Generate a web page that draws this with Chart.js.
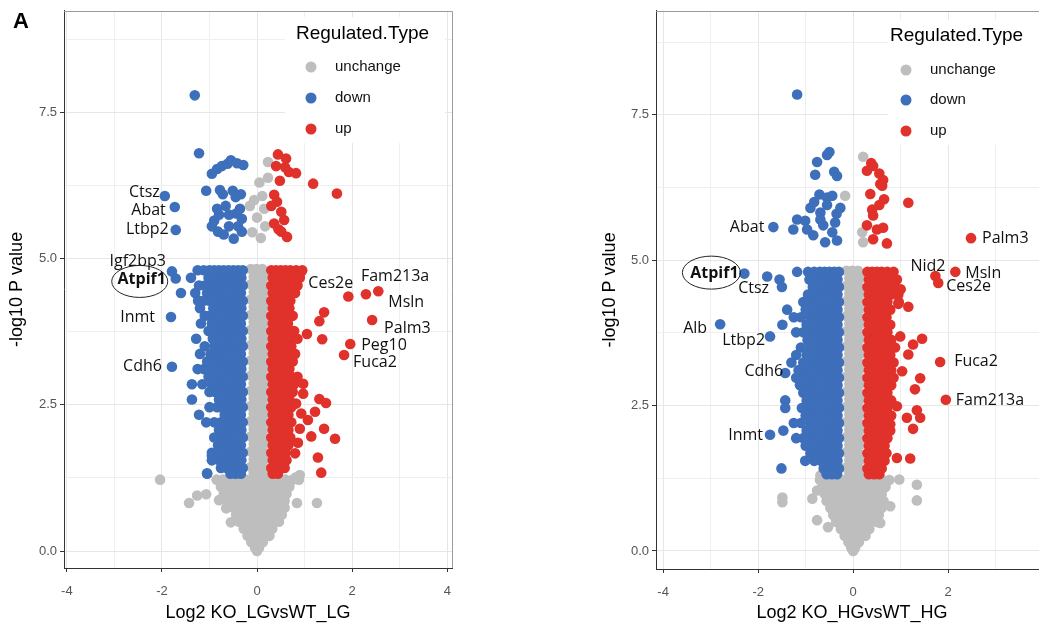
<!DOCTYPE html>
<html><head><meta charset="utf-8">
<script src="https://cdn.jsdelivr.net/npm/chart.js@4.4.1/dist/chart.umd.min.js"></script>
<style>
html,body{margin:0;padding:0;background:#fff;overflow:hidden;width:1039px;height:632px;position:relative;}
#c1{position:absolute;left:0;top:0;}
#c2{position:absolute;left:590px;top:0;}
</style></head><body>
<canvas id="c1" width="480" height="632"></canvas>
<canvas id="c2" width="480" height="632"></canvas>
<script>
// ---------- shared categories / ticks ----------
const seriesNames = ['unchange','down','up'];
const legendTitle = 'Regulated.Type';
const xMajorTicks = [-4,-2,0,2,4];
const xTickLabels = ['-4','-2','0','2','4'];
const xMinorTicks = [-3,-1,1,3];
const yMajorTicks = [0,2.5,5,7.5];
const yTickLabels = ['0.0','2.5','5.0','7.5'];
const yMinorTicks = [1.25,3.75,6.25,8.75];
const yTitle = '-log10 P value';
const leftXTitle = 'Log2 KO_LGvsWT_LG';
const rightXTitle = 'Log2 KO_HGvsWT_HG';

// ---------- LEFT panel (KO_LG vs WT_LG) ----------
// rows: [y, [x values]]
const leftDownRows = [
 [4.80,[-0.30,-0.40,-0.50,-0.60,-0.70,-0.80,-0.90,-1.00,-1.12,-1.25]],
 [4.67,[-0.33,-0.44,-0.55,-0.66,-0.78,-0.90,-1.02,-1.39]],
 [4.54,[-0.30,-0.41,-0.52,-0.63,-0.74,-0.86,-0.98,-1.10,-1.22]],
 [4.41,[-0.34,-0.45,-0.56,-0.68,-0.80,-0.93,-1.05,-1.30,-1.60]],
 [4.28,[-0.30,-0.41,-0.52,-0.64,-0.76,-0.88,-1.00,-1.12,-1.24]],
 [4.15,[-0.33,-0.44,-0.55,-0.67,-0.79,-0.92,-1.20]],
 [4.02,[-0.30,-0.41,-0.52,-0.63,-0.75,-0.87,-1.00,-1.10]],
 [3.89,[-0.34,-0.45,-0.56,-0.68,-0.80,-0.95,-1.18]],
 [3.76,[-0.30,-0.41,-0.52,-0.64,-0.76,-0.88,-1.02]],
 [3.63,[-0.33,-0.44,-0.55,-0.67,-0.80,-0.93,-1.28]],
 [3.50,[-0.30,-0.41,-0.52,-0.64,-0.76,-0.90,-1.10]],
 [3.37,[-0.34,-0.45,-0.56,-0.68,-0.82,-0.98,-1.20]],
 [3.24,[-0.30,-0.41,-0.52,-0.64,-0.76,-0.88,-1.05]],
 [3.11,[-0.33,-0.44,-0.55,-0.67,-0.80,-0.94,-1.12,-1.25]],
 [2.98,[-0.30,-0.41,-0.52,-0.64,-0.76,-0.90,-1.02]],
 [2.85,[-0.34,-0.45,-0.56,-0.68,-0.80,-0.95,-1.15,-1.37]],
 [2.72,[-0.30,-0.41,-0.52,-0.64,-0.76,-0.88,-1.00]],
 [2.59,[-0.33,-0.44,-0.55,-0.67,-0.80,-1.37]],
 [2.46,[-0.30,-0.41,-0.52,-0.64,-0.76,-0.84,-1.00]],
 [2.33,[-0.34,-0.45,-0.56,-0.68,-1.22]],
 [2.20,[-0.30,-0.41,-0.52,-0.64,-0.76,-0.90,-1.07]],
 [2.07,[-0.33,-0.44,-0.55,-0.67,-0.80]],
 [1.94,[-0.30,-0.41,-0.52,-0.64,-0.78,-0.90]],
 [1.81,[-0.34,-0.45,-0.56,-0.68,-0.82]],
 [1.68,[-0.30,-0.41,-0.52,-0.64,-0.76,-0.95]],
 [1.55,[-0.33,-0.44,-0.55,-0.67,-0.80,-0.95]],
 [1.42,[-0.30,-0.41,-0.52,-0.64,-0.76]],
 [1.32,[-0.34,-0.45,-0.56,-1.05]]
];
const leftDownExtra = [
 [-1.31,7.79],[-1.22,6.80],[-0.95,6.45],[-0.84,6.53],[-0.74,6.58],[-0.62,6.62],[-0.55,6.68],[-0.42,6.63],[-0.29,6.60],
 [-1.07,6.16],[-0.78,6.17],[-0.72,6.10],[-0.51,6.16],[-0.45,6.05],[-0.34,6.10],
 [-0.84,5.85],[-0.66,5.90],[-0.36,5.85],[-0.80,5.75],[-0.59,5.75],[-0.44,5.77],[-0.32,5.68],[-0.90,5.65],
 [-0.95,5.55],[-0.59,5.55],[-0.40,5.55],[-0.82,5.46],[-0.32,5.46],[-0.70,5.41],[-0.49,5.34],
 [-1.05,1.33],[-0.95,1.63]
];
const leftUpRows = [
 [4.80,[0.30,0.40,0.50,0.60,0.70,0.82,0.95]],
 [4.67,[0.33,0.44,0.55,0.66,0.78,0.90]],
 [4.54,[0.30,0.40,0.50,0.60,0.72,0.85]],
 [4.41,[0.33,0.44,0.55,0.66,0.80]],
 [4.28,[0.30,0.40,0.50,0.60,0.70]],
 [4.15,[0.33,0.44,0.55,0.68]],
 [4.02,[0.30,0.40,0.50,0.60,0.75]],
 [3.89,[0.33,0.44,0.55,0.65]],
 [3.76,[0.30,0.40,0.50,0.62,0.78]],
 [3.63,[0.33,0.44,0.55,0.68,0.85]],
 [3.50,[0.30,0.40,0.50,0.60,0.72]],
 [3.37,[0.33,0.44,0.55,0.66,0.80]],
 [3.24,[0.30,0.40,0.50,0.62,0.75]],
 [3.11,[0.33,0.44,0.55,0.68]],
 [2.98,[0.30,0.40,0.50,0.60,0.72,0.85]],
 [2.85,[0.33,0.44,0.55,0.66,0.78]],
 [2.72,[0.30,0.40,0.50,0.62,0.75]],
 [2.59,[0.33,0.44,0.55,0.68]],
 [2.46,[0.30,0.40,0.50,0.60,0.72]],
 [2.33,[0.33,0.44,0.55,0.66]],
 [2.20,[0.30,0.40,0.50,0.62,0.72]],
 [2.07,[0.33,0.44,0.55,0.66]],
 [1.94,[0.30,0.40,0.50,0.60,0.70]],
 [1.81,[0.33,0.44,0.55,0.66]],
 [1.68,[0.30,0.40,0.50,0.60]],
 [1.55,[0.33,0.44,0.55,0.62]],
 [1.42,[0.30,0.40,0.50,0.58]],
 [1.32,[0.33,0.44]]
];
const leftUpExtra = [
 [0.44,6.78],[0.61,6.71],[0.40,6.58],[0.59,6.56],[0.67,6.48],[0.82,6.46],[0.48,6.33],[1.18,6.28],[1.68,6.11],[0.36,6.09],
 [0.42,5.97],[0.30,5.90],[0.51,5.80],[0.57,5.66],[0.36,5.60],[0.45,5.50],[0.51,5.46],[0.63,5.37],
 [0.93,4.78],[0.74,4.73],[1.41,4.08],[1.31,3.93],[1.05,3.71],[1.37,3.62],
 [0.97,2.86],[0.97,2.69],[1.31,2.60],[1.45,2.53],[0.82,2.52],[1.22,2.38],[0.93,2.35],[1.07,2.24],
 [1.41,2.09],[0.90,2.09],[1.14,1.96],[1.64,1.92],[0.86,1.85],[0.80,1.67],[1.28,1.60],[1.35,1.34]
];
const leftUnchangeRows = [
 [4.82,[-0.13,-0.01,0.11]],[4.69,[-0.07,0.05,0.16]],[4.56,[-0.13,-0.01,0.11]],[4.43,[-0.07,0.05,0.16]],
 [4.30,[-0.13,-0.01,0.11]],[4.17,[-0.07,0.05,0.16]],[4.04,[-0.13,-0.01,0.11]],[3.91,[-0.07,0.05,0.16]],
 [3.78,[-0.13,-0.01,0.11]],[3.65,[-0.07,0.05,0.16]],[3.52,[-0.13,-0.01,0.11]],[3.39,[-0.07,0.05,0.16]],
 [3.26,[-0.13,-0.01,0.11]],[3.13,[-0.07,0.05,0.16]],[3.00,[-0.13,-0.01,0.11]],[2.87,[-0.07,0.05,0.16]],
 [2.74,[-0.13,-0.01,0.11]],[2.61,[-0.07,0.05,0.16]],[2.48,[-0.13,-0.01,0.11]],[2.35,[-0.07,0.05,0.16]],
 [2.22,[-0.13,-0.01,0.11]],[2.09,[-0.07,0.05,0.16]],[1.96,[-0.13,-0.01,0.11]],[1.83,[-0.07,0.05,0.16]],
 [1.70,[-0.13,-0.01,0.11]],[1.57,[-0.07,0.05,0.16]],[1.44,[-0.13,-0.01,0.11]],[1.33,[-0.07,0.05,0.16]],
 [1.22,[-0.85,-0.72,-0.60,-0.48,-0.36,-0.24,-0.12,0,0.12,0.24,0.36,0.48,0.60,0.75,0.88]],
 [1.10,[-0.76,-0.64,-0.52,-0.40,-0.28,-0.16,-0.04,0.08,0.20,0.32,0.44,0.56,0.68]],
 [0.98,[-0.70,-0.58,-0.46,-0.34,-0.22,-0.10,0.02,0.14,0.26,0.38,0.50,0.62]],
 [0.86,[-0.62,-0.50,-0.38,-0.26,-0.14,-0.02,0.10,0.22,0.34,0.46,0.58]],
 [0.74,[-0.50,-0.38,-0.26,-0.14,-0.02,0.10,0.22,0.34,0.46,0.58]],
 [0.62,[-0.44,-0.32,-0.20,-0.08,0.04,0.16,0.28,0.40,0.52]],
 [0.50,[-0.38,-0.26,-0.14,-0.02,0.10,0.22,0.34,0.46]],
 [0.38,[-0.28,-0.16,-0.04,0.08,0.20,0.32]],
 [0.26,[-0.20,-0.08,0.04,0.16,0.26]],
 [0.15,[-0.12,0,0.12]],
 [0.05,[-0.04,0.04]],
 [0.00,[0]]
];
const leftUnchangeExtra = [
 [-2.04,1.22],[-1.43,0.82],[-1.26,0.95],[-1.07,0.97],[-0.80,0.87],[-0.65,0.73],[-0.55,0.49],
 [0.84,0.82],[1.26,0.82],[0.82,1.26],[0.90,1.30],
 [0.23,6.65],[0.23,6.38],[0.05,6.30],[0.11,6.07],[-0.06,6.00],[-0.15,5.90],[0.15,5.85],[0.00,5.70],[0.17,5.55],[-0.10,5.45],[0.08,5.35]
];
const leftGenes = ['Ctsz','Abat','Ltbp2','Igf2bp3','Atpif1','Inmt','Cdh6','Ces2e','Fam213a','Msln','Palm3','Peg10','Fuca2'];
const leftGeneX = [-1.94,-1.73,-1.71,-1.79,-1.71,-1.81,-1.79,1.92,2.29,2.55,2.42,1.96,1.83];
const leftGeneY = [6.07,5.88,5.49,4.78,4.66,4.00,3.15,4.35,4.39,4.44,3.95,3.54,3.35];
const leftGeneType = ['down','down','down','down','down','down','down','up','up','up','up','up','up'];

// ---------- RIGHT panel (KO_HG vs WT_HG) ----------
const rightDownRows = [
 [4.80,[-0.30,-0.40,-0.50,-0.60,-0.70,-0.82,-0.95,-1.18]],
 [4.67,[-0.33,-0.44,-0.55,-0.66,-0.78,-0.92,-1.55]],
 [4.54,[-0.30,-0.40,-0.50,-0.60,-0.72,-0.85,-1.50]],
 [4.41,[-0.33,-0.44,-0.55,-0.66,-0.80,-0.95]],
 [4.28,[-0.30,-0.40,-0.50,-0.62,-0.75,-0.90,-1.05]],
 [4.15,[-0.33,-0.44,-0.55,-0.68,-0.82,-1.00,-1.39]],
 [4.02,[-0.30,-0.40,-0.50,-0.62,-0.75,-0.90,-1.10,-1.25]],
 [3.89,[-0.33,-0.44,-0.55,-0.68,-0.82,-0.98,-1.49]],
 [3.76,[-0.30,-0.40,-0.50,-0.62,-0.75,-0.90,-1.05,-1.20]],
 [3.63,[-0.33,-0.44,-0.55,-0.68,-0.82,-0.96]],
 [3.50,[-0.30,-0.40,-0.50,-0.62,-0.75,-0.90,-1.10]],
 [3.37,[-0.33,-0.44,-0.55,-0.68,-0.82,-0.98,-1.20]],
 [3.24,[-0.30,-0.40,-0.50,-0.62,-0.75,-0.90,-1.05,-1.30]],
 [3.11,[-0.33,-0.44,-0.55,-0.68,-0.82,-0.98,-1.15]],
 [2.98,[-0.30,-0.40,-0.50,-0.62,-0.75,-0.90,-1.05,-1.20]],
 [2.85,[-0.33,-0.44,-0.55,-0.68,-0.82,-0.98,-1.12]],
 [2.72,[-0.30,-0.40,-0.50,-0.62,-0.75,-0.90,-1.05]],
 [2.59,[-0.33,-0.44,-0.55,-0.68,-0.82,-0.98,-1.43]],
 [2.46,[-0.30,-0.40,-0.50,-0.62,-0.75,-0.90,-1.08,-1.43]],
 [2.33,[-0.33,-0.44,-0.55,-0.68,-0.82,-1.00]],
 [2.20,[-0.30,-0.40,-0.50,-0.62,-0.75,-0.90,-1.10,-1.25]],
 [2.07,[-0.33,-0.44,-0.55,-0.68,-0.82,-0.98,-1.47]],
 [1.94,[-0.30,-0.40,-0.50,-0.62,-0.75,-0.90,-1.05,-1.20]],
 [1.81,[-0.33,-0.44,-0.55,-0.68,-0.82,-1.00]],
 [1.68,[-0.30,-0.40,-0.50,-0.62,-0.75,-0.90]],
 [1.55,[-0.33,-0.44,-0.55,-0.68,-0.82,-1.01]],
 [1.42,[-0.30,-0.40,-0.50,-0.62,-1.51]],
 [1.32,[-0.34,-0.45,-0.56]]
];
const rightDownExtra = [
 [-1.18,7.85],[-0.76,6.69],[-0.55,6.81],[-0.50,6.86],[-0.80,6.47],[-0.40,6.52],[-0.34,6.45],
 [-0.71,6.13],[-0.55,6.08],[-0.44,6.11],[-0.82,6.00],[-0.55,5.95],[-0.90,5.90],[-0.27,5.90],[-0.69,5.82],[-0.35,5.80],
 [-1.18,5.70],[-1.01,5.68],[-0.69,5.70],[-0.38,5.65],[-0.63,5.60],[-1.26,5.53],[-0.97,5.53],[-0.44,5.48],
 [-0.84,5.43],[-0.34,5.34],[-0.59,5.31]
];
const rightUpRows = [
 [4.80,[0.30,0.40,0.50,0.60,0.72,0.85]],
 [4.67,[0.33,0.44,0.55,0.66,0.78,0.92]],
 [4.54,[0.30,0.40,0.50,0.60,0.72,0.88]],
 [4.41,[0.33,0.44,0.55,0.66,0.80,0.95]],
 [4.28,[0.30,0.40,0.50,0.60,0.72,0.96]],
 [4.15,[0.33,0.44,0.55,0.66,0.78]],
 [4.02,[0.30,0.40,0.50,0.60,0.70]],
 [3.89,[0.33,0.44,0.55,0.66,0.78]],
 [3.76,[0.30,0.40,0.50,0.60,0.72]],
 [3.63,[0.33,0.44,0.55,0.66,0.80]],
 [3.50,[0.30,0.40,0.50,0.60,0.72,0.88]],
 [3.37,[0.33,0.44,0.55,0.66,0.78]],
 [3.24,[0.30,0.40,0.50,0.60,0.72,0.85]],
 [3.11,[0.33,0.44,0.55,0.66,0.80]],
 [2.98,[0.30,0.40,0.50,0.60,0.72,0.85]],
 [2.85,[0.33,0.44,0.55,0.66,0.80]],
 [2.72,[0.30,0.40,0.50,0.60,0.72]],
 [2.59,[0.33,0.44,0.55,0.66,0.80]],
 [2.46,[0.30,0.40,0.50,0.60,0.72]],
 [2.33,[0.33,0.44,0.55,0.66,0.80]],
 [2.20,[0.30,0.40,0.50,0.60,0.72]],
 [2.07,[0.33,0.44,0.55,0.66,0.78]],
 [1.94,[0.30,0.40,0.50,0.60,0.72]],
 [1.81,[0.33,0.44,0.55,0.66]],
 [1.68,[0.30,0.40,0.50,0.60,0.70]],
 [1.55,[0.33,0.44,0.55,0.66]],
 [1.42,[0.30,0.40,0.50,0.60]],
 [1.32,[0.33,0.44,0.55]]
];
const rightUpExtra = [
 [0.38,6.67],[0.42,6.62],[0.29,6.54],[0.55,6.49],[0.63,6.38],[0.57,6.31],[0.61,6.28],[0.36,6.14],[0.65,6.05],
 [1.16,5.99],[0.55,5.95],[0.40,5.87],[0.42,5.77],[0.29,5.60],[0.63,5.56],[0.50,5.53],[0.42,5.36],[0.71,5.29],
 [0.85,4.55],[1.00,4.50],[0.95,4.25],[1.16,4.20],[0.99,3.69],[1.45,3.65],[1.26,3.55],[1.16,3.38],[1.03,3.09],
 [1.41,2.97],[1.30,2.78],[0.92,2.49],[1.34,2.42],[0.71,2.35],[1.13,2.29],[1.41,2.29],[0.78,2.18],[1.26,2.10],
 [1.20,1.59],[0.92,1.60]
];
const rightUnchangeRows = [
 [4.82,[-0.14,-0.02,0.10]],[4.69,[-0.08,0.04,0.15]],[4.56,[-0.14,-0.02,0.10]],[4.43,[-0.08,0.04,0.15]],
 [4.30,[-0.14,-0.02,0.10]],[4.17,[-0.08,0.04,0.15]],[4.04,[-0.14,-0.02,0.10]],[3.91,[-0.08,0.04,0.15]],
 [3.78,[-0.14,-0.02,0.10]],[3.65,[-0.08,0.04,0.15]],[3.52,[-0.14,-0.02,0.10]],[3.39,[-0.08,0.04,0.15]],
 [3.26,[-0.14,-0.02,0.10]],[3.13,[-0.08,0.04,0.15]],[3.00,[-0.14,-0.02,0.10]],[2.87,[-0.08,0.04,0.15]],
 [2.74,[-0.14,-0.02,0.10]],[2.61,[-0.08,0.04,0.15]],[2.48,[-0.14,-0.02,0.10]],[2.35,[-0.08,0.04,0.15]],
 [2.22,[-0.14,-0.02,0.10]],[2.09,[-0.08,0.04,0.15]],[1.96,[-0.14,-0.02,0.10]],[1.83,[-0.08,0.04,0.15]],
 [1.70,[-0.14,-0.02,0.10]],[1.57,[-0.08,0.04,0.15]],[1.44,[-0.14,-0.02,0.10]],[1.33,[-0.08,0.04,0.15]],
 [1.22,[-0.70,-0.58,-0.46,-0.34,-0.22,-0.10,0.02,0.14,0.26,0.38,0.50,0.62,0.76]],
 [1.10,[-0.64,-0.52,-0.40,-0.28,-0.16,-0.04,0.08,0.20,0.32,0.44,0.56,0.68]],
 [0.98,[-0.60,-0.48,-0.36,-0.24,-0.12,0,0.12,0.24,0.36,0.48,0.60]],
 [0.86,[-0.56,-0.44,-0.32,-0.20,-0.08,0.04,0.16,0.28,0.40,0.52,0.64]],
 [0.74,[-0.48,-0.36,-0.24,-0.12,0,0.12,0.24,0.36,0.48,0.60]],
 [0.62,[-0.42,-0.30,-0.18,-0.06,0.06,0.18,0.30,0.42,0.54]],
 [0.50,[-0.36,-0.24,-0.12,0,0.12,0.24,0.36,0.50]],
 [0.38,[-0.26,-0.14,-0.02,0.10,0.22,0.34]],
 [0.26,[-0.18,-0.06,0.06,0.18,0.26]],
 [0.15,[-0.10,0.02,0.12]],
 [0.05,[-0.04,0.04]],
 [0.00,[0]]
];
const rightUnchangeExtra = [
 [0.97,1.23],[1.34,1.14],[1.34,0.87],[0.78,0.77],[0.57,0.48],
 [-1.49,0.92],[-1.49,0.84],[-0.76,1.04],[-0.86,0.90],[-0.76,0.53],[-0.53,0.41],[-0.69,1.30],
 [0.21,6.78],[-0.17,6.11],[0.19,5.48],[0.21,5.31]
];
const rightGenes = ['Abat','Atpif1','Ctsz','Alb','Ltbp2','Cdh6','Inmt','Palm3','Nid2','Msln','Ces2e','Fuca2','Fam213a'];
const rightGeneX = [-1.68,-2.29,-1.81,-2.80,-1.75,-1.43,-1.75,2.48,1.73,2.15,1.79,1.83,1.95];
const rightGeneY = [5.57,4.77,4.72,3.90,3.69,3.06,2.00,5.38,4.73,4.80,4.61,3.25,2.60];
const rightGeneType = ['down','down','down','down','down','down','down','up','up','up','up','up','up'];

// ---------- styles / layout (positions & sizes only) ----------
const colors = {unchange:'#BEBEBE', down:'#3E6FBA', up:'#E0312B'};
const labelFont = '16px "Open Sans"';
const labelFontBold = 'bold 16px "Open Sans"';
const leftLayout = {
  canvas:'c1', xMin:-4.06, xMax:4.1, yMin:-0.29, yMax:9.235,
  padTop:8, padRight:28, yAxisW:64, xAxisH:64, yTitlePad:6, xTitlePad:8,
  legendBox:[285,17,160,126], legendTitleX:296, legendTitleY:34, dotX:311, textX:335, rowY:[67,98,129],
  panelLetter:{text:'A', x:13, y:28},
  offsets:{Ctsz:[-5,-4,'right'],Abat:[-9,3,'right'],Ltbp2:[-7,0,'right'],Igf2bp3:[-6,-10,'right'],
    Atpif1:[-34,1,'center'],Inmt:[-16,0,'right'],Cdh6:[-10,0,'right'],Ces2e:[-40,-13,'left'],
    Fam213a:[-5,-18,'left'],Msln:[10,11,'left'],Palm3:[12,8,'left'],Peg10:[11,1,'left'],Fuca2:[9,7,'left']},
  ellipse:{gene:'Atpif1', dx:-36, dy:3, rx:28, ry:16}
};
const rightLayout = {
  canvas:'c2', xMin:-4.15, xMax:4.1, yMin:-0.31, yMax:9.29,
  padTop:7, padRight:22, yAxisW:66, xAxisH:63, yTitlePad:9, xTitlePad:8,
  legendBox:[298,20,200,125], legendTitleX:300, legendTitleY:36, dotX:316, textX:340, rowY:[70,100,131],
  panelLetter:null,
  offsets:{Abat:[-9,0,'right'],Atpif1:[-30,0,'center'],Ctsz:[-29,12,'left'],Alb:[-13,4,'right'],
    Ltbp2:[-5,4,'right'],Cdh6:[-2,-2,'right'],Inmt:[-7,1,'right'],Palm3:[11,0,'left'],Nid2:[-25,-10,'left'],
    Msln:[10,2,'left'],Ces2e:[8,4,'left'],Fuca2:[14,-1,'left'],Fam213a:[10,1,'left']},
  ellipse:{gene:'Atpif1', dx:-33, dy:-1, rx:29, ry:16.5}
};

// ---------- helpers ----------
function rowsToPoints(rows){ const out=[]; rows.forEach(r=>r[1].forEach(x=>out.push({x:x,y:r[0]}))); return out; }
function pairsToPoints(p){ return p.map(q=>({x:q[0],y:q[1]})); }
function genePoints(names,gx,gy,gt,type){ const out=[]; names.forEach((n,i)=>{ if(gt[i]===type) out.push({x:gx[i],y:gy[i]}); }); return out; }

function makePanel(L, xTitle, un, down, up, genes, gx, gy){
  const allX = xMajorTicks.concat(xMinorTicks).sort((a,b)=>a-b);
  const allY = yMajorTicks.concat(yMinorTicks).sort((a,b)=>a-b);
  const isMajorX = v => xMajorTicks.indexOf(v) >= 0;
  const isMajorY = v => yMajorTicks.indexOf(v) >= 0;
  const overlay = {
    id:'overlay',
    afterDatasetsDraw(chart){
      const ctx = chart.ctx, xs = chart.scales.x, ys = chart.scales.y;
      ctx.save();
      ctx.fillStyle = '#111'; ctx.textBaseline = 'middle';
      genes.forEach((g,i)=>{
        const px = xs.getPixelForValue(gx[i]), py = ys.getPixelForValue(gy[i]);
        const o = L.offsets[g];
        ctx.font = (g === L.ellipse.gene) ? labelFontBold : labelFont;
        ctx.textAlign = o[2];
        ctx.fillStyle = '#111';
        ctx.fillText(g, px + o[0], py + o[1]);
        if (g === L.ellipse.gene){
          ctx.beginPath(); ctx.strokeStyle = '#222'; ctx.lineWidth = 1;
          ctx.ellipse(px + L.ellipse.dx, py + L.ellipse.dy, L.ellipse.rx, L.ellipse.ry, 0, 0, Math.PI*2);
          ctx.stroke();
        }
      });
      const b = L.legendBox;
      ctx.fillStyle = '#fff'; ctx.fillRect(b[0], b[1], b[2], b[3]);
      ctx.fillStyle = '#000'; ctx.textAlign = 'left'; ctx.textBaseline = 'middle';
      ctx.font = '19px "Liberation Sans"';
      ctx.fillText(legendTitle, L.legendTitleX, L.legendTitleY);
      ctx.font = '15px "Liberation Sans"';
      seriesNames.forEach((s,i)=>{
        ctx.beginPath(); ctx.fillStyle = colors[s];
        ctx.arc(L.dotX, L.rowY[i], 5.5, 0, Math.PI*2); ctx.fill();
        ctx.fillStyle = '#111'; ctx.fillText(s, L.textX, L.rowY[i]);
      });
      ctx.restore();
    },
    afterDraw(chart){
      const ctx = chart.ctx, ca = chart.chartArea;
      ctx.save();
      ctx.strokeStyle = '#9a9a9a'; ctx.lineWidth = 1;
      ctx.beginPath();
      ctx.moveTo(ca.left, Math.round(ca.top)+0.5);
      ctx.lineTo(Math.round(ca.right)+0.5, Math.round(ca.top)+0.5);
      ctx.lineTo(Math.round(ca.right)+0.5, ca.bottom);
      ctx.stroke();
      if (L.panelLetter){
        ctx.fillStyle = '#000'; ctx.font = 'bold 22px "Liberation Sans"';
        ctx.textAlign = 'left'; ctx.textBaseline = 'alphabetic';
        ctx.fillText(L.panelLetter.text, L.panelLetter.x, L.panelLetter.y);
      }
      ctx.restore();
    }
  };
  const ptStyle = {pointRadius:5.3, pointHoverRadius:5.3, pointBorderWidth:0, borderWidth:0};
  return new Chart(document.getElementById(L.canvas), {
    type:'scatter',
    data:{datasets:[
      Object.assign({label:seriesNames[0], data:un, backgroundColor:colors.unchange, order:3}, ptStyle),
      Object.assign({label:seriesNames[1], data:down, backgroundColor:colors.down, order:2}, ptStyle),
      Object.assign({label:seriesNames[2], data:up, backgroundColor:colors.up, order:1}, ptStyle)
    ]},
    options:{
      responsive:false, animation:false, events:[],
      layout:{padding:{top:L.padTop, right:L.padRight, left:0, bottom:0}},
      plugins:{legend:{display:false}, tooltip:{enabled:false}},
      scales:{
        x:{type:'linear', min:L.xMin, max:L.xMax,
          afterBuildTicks: ax => { ax.ticks = allX.map(v=>({value:v})); },
          afterFit: ax => { ax.height = L.xAxisH; },
          ticks:{autoSkip:false, maxRotation:0, padding:12, color:'#555', font:{family:'Liberation Sans', size:13},
            callback: v => { const i = xMajorTicks.indexOf(v); return i >= 0 ? xTickLabels[i] : ''; }},
          grid:{color: c => isMajorX(c.tick.value) ? '#e6e6e6' : '#efefef', lineWidth:1, tickLength:4,
            tickColor: c => isMajorX(c.tick.value) ? '#333' : 'rgba(0,0,0,0)', tickWidth:1},
          border:{display:true, color:'#333', width:1},
          title:{display:true, text:xTitle, color:'#000', font:{family:'Liberation Sans', size:18}, padding:{top:0, bottom:L.xTitlePad}}
        },
        y:{type:'linear', min:L.yMin, max:L.yMax,
          afterBuildTicks: ax => { ax.ticks = allY.map(v=>({value:v})); },
          afterFit: ax => { ax.width = L.yAxisW; },
          ticks:{autoSkip:false, padding:3, color:'#555', font:{family:'Liberation Sans', size:13},
            callback: v => { const i = yMajorTicks.indexOf(v); return i >= 0 ? yTickLabels[i] : ''; }},
          grid:{color: c => isMajorY(c.tick.value) ? '#e6e6e6' : '#efefef', lineWidth:1, tickLength:4,
            tickColor: c => isMajorY(c.tick.value) ? '#333' : 'rgba(0,0,0,0)', tickWidth:1},
          border:{display:true, color:'#333', width:1},
          title:{display:true, text:yTitle, color:'#000', font:{family:'Liberation Sans', size:18}, padding:{top:L.yTitlePad, bottom:0}}
        }
      }
    },
    plugins:[overlay]
  });
}

makePanel(leftLayout, leftXTitle,
  rowsToPoints(leftUnchangeRows).concat(pairsToPoints(leftUnchangeExtra)),
  rowsToPoints(leftDownRows).concat(pairsToPoints(leftDownExtra), genePoints(leftGenes,leftGeneX,leftGeneY,leftGeneType,'down')),
  rowsToPoints(leftUpRows).concat(pairsToPoints(leftUpExtra), genePoints(leftGenes,leftGeneX,leftGeneY,leftGeneType,'up')),
  leftGenes, leftGeneX, leftGeneY);
makePanel(rightLayout, rightXTitle,
  rowsToPoints(rightUnchangeRows).concat(pairsToPoints(rightUnchangeExtra)),
  rowsToPoints(rightDownRows).concat(pairsToPoints(rightDownExtra), genePoints(rightGenes,rightGeneX,rightGeneY,rightGeneType,'down')),
  rowsToPoints(rightUpRows).concat(pairsToPoints(rightUpExtra), genePoints(rightGenes,rightGeneX,rightGeneY,rightGeneType,'up')),
  rightGenes, rightGeneX, rightGeneY);
</script>
</body></html>
